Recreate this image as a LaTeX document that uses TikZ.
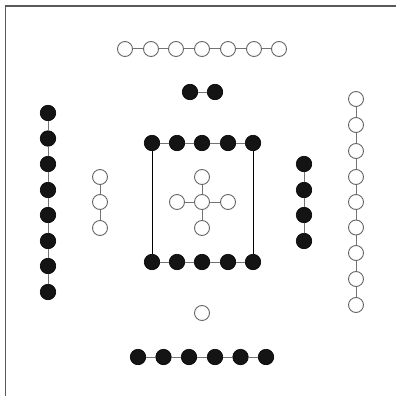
\documentclass[tikz,border=0pt]{standalone}
\begin{document}
\begin{tikzpicture}[x=1pt,y=-1pt,
  wnode/.style={circle,draw=black!60,fill=white,line width=0.9pt,minimum size=15pt,inner sep=0pt},
  bnode/.style={circle,draw=black,fill=black!92,line width=0.6pt,minimum size=15.5pt,inner sep=0pt},
  link/.style={draw=black!55,line width=1pt},
  frameline/.style={draw=black!65,line width=1.2pt}]
\useasboundingbox (0,0) rectangle (396,396);
\fill[white] (0,0) rectangle (396,396);
\coordinate (fa) at (5.5,396);
\coordinate (fb) at (5.5,6);
\coordinate (fc) at (396,6);
\draw[frameline] (fa) -- (fb) -- (fc);
% top white row
\foreach \i/\x in {1/125,2/151,3/176,4/202,5/228,6/254,7/279}
  \node[wnode] (t\i) at (\x,49) {};
\foreach \i [evaluate=\i as \j using int(\i+1)] in {1,...,6}
  \draw[link] (t\i) -- (t\j);
% black pair
\node[bnode] (p1) at (190,92) {};
\node[bnode] (p2) at (215,92) {};
\draw[link] (p1) -- (p2);
% left black column
\foreach \i/\y in {1/113,2/138.5,3/164,4/190,5/215,6/241,7/266,8/292}
  \node[bnode] (l\i) at (48,\y) {};
\foreach \i [evaluate=\i as \j using int(\i+1)] in {1,...,7}
  \draw[link] (l\i) -- (l\j);
% left white column
\foreach \i/\y in {1/177,2/202,3/228}
  \node[wnode] (lw\i) at (100,\y) {};
\draw[link] (lw1) -- (lw2);
\draw[link] (lw2) -- (lw3);
% square
\foreach \i/\x in {1/152,2/177,3/202,4/228,5/253}{
  \node[bnode] (sa\i) at (\x,143) {};
  \node[bnode] (sb\i) at (\x,262) {};
}
\foreach \i [evaluate=\i as \j using int(\i+1)] in {1,...,4}{
  \draw[link] (sa\i) -- (sa\j);
  \draw[link] (sb\i) -- (sb\j);
}
\draw[black,line width=0.9pt] (sa1) -- (sb1);
\draw[black,line width=0.9pt] (sa5) -- (sb5);
% cross
\node[wnode] (cc) at (202,202) {};
\node[wnode] (cu) at (202,177) {};
\node[wnode] (cd) at (202,228) {};
\node[wnode] (cl) at (177,202) {};
\node[wnode] (cr) at (228,202) {};
\draw[link] (cc) -- (cu);
\draw[link] (cc) -- (cd);
\draw[link] (cc) -- (cl);
\draw[link] (cc) -- (cr);
% right black column
\foreach \i/\y in {1/164,2/190,3/215,4/241}
  \node[bnode] (rb\i) at (304,\y) {};
\foreach \i [evaluate=\i as \j using int(\i+1)] in {1,...,3}
  \draw[link] (rb\i) -- (rb\j);
% right white column
\foreach \i/\y in {1/99,2/125,3/151,4/177,5/202,6/227.5,7/253,8/279,9/305}
  \node[wnode] (rw\i) at (356,\y) {};
\foreach \i [evaluate=\i as \j using int(\i+1)] in {1,...,8}
  \draw[link] (rw\i) -- (rw\j);
% single white
\node[wnode] (s) at (202,313) {};
% bottom black row
\foreach \i/\x in {1/138,2/163.5,3/189,4/215,5/240.5,6/266}
  \node[bnode] (b\i) at (\x,357) {};
\foreach \i [evaluate=\i as \j using int(\i+1)] in {1,...,5}
  \draw[link] (b\i) -- (b\j);
\end{tikzpicture}
\end{document}
